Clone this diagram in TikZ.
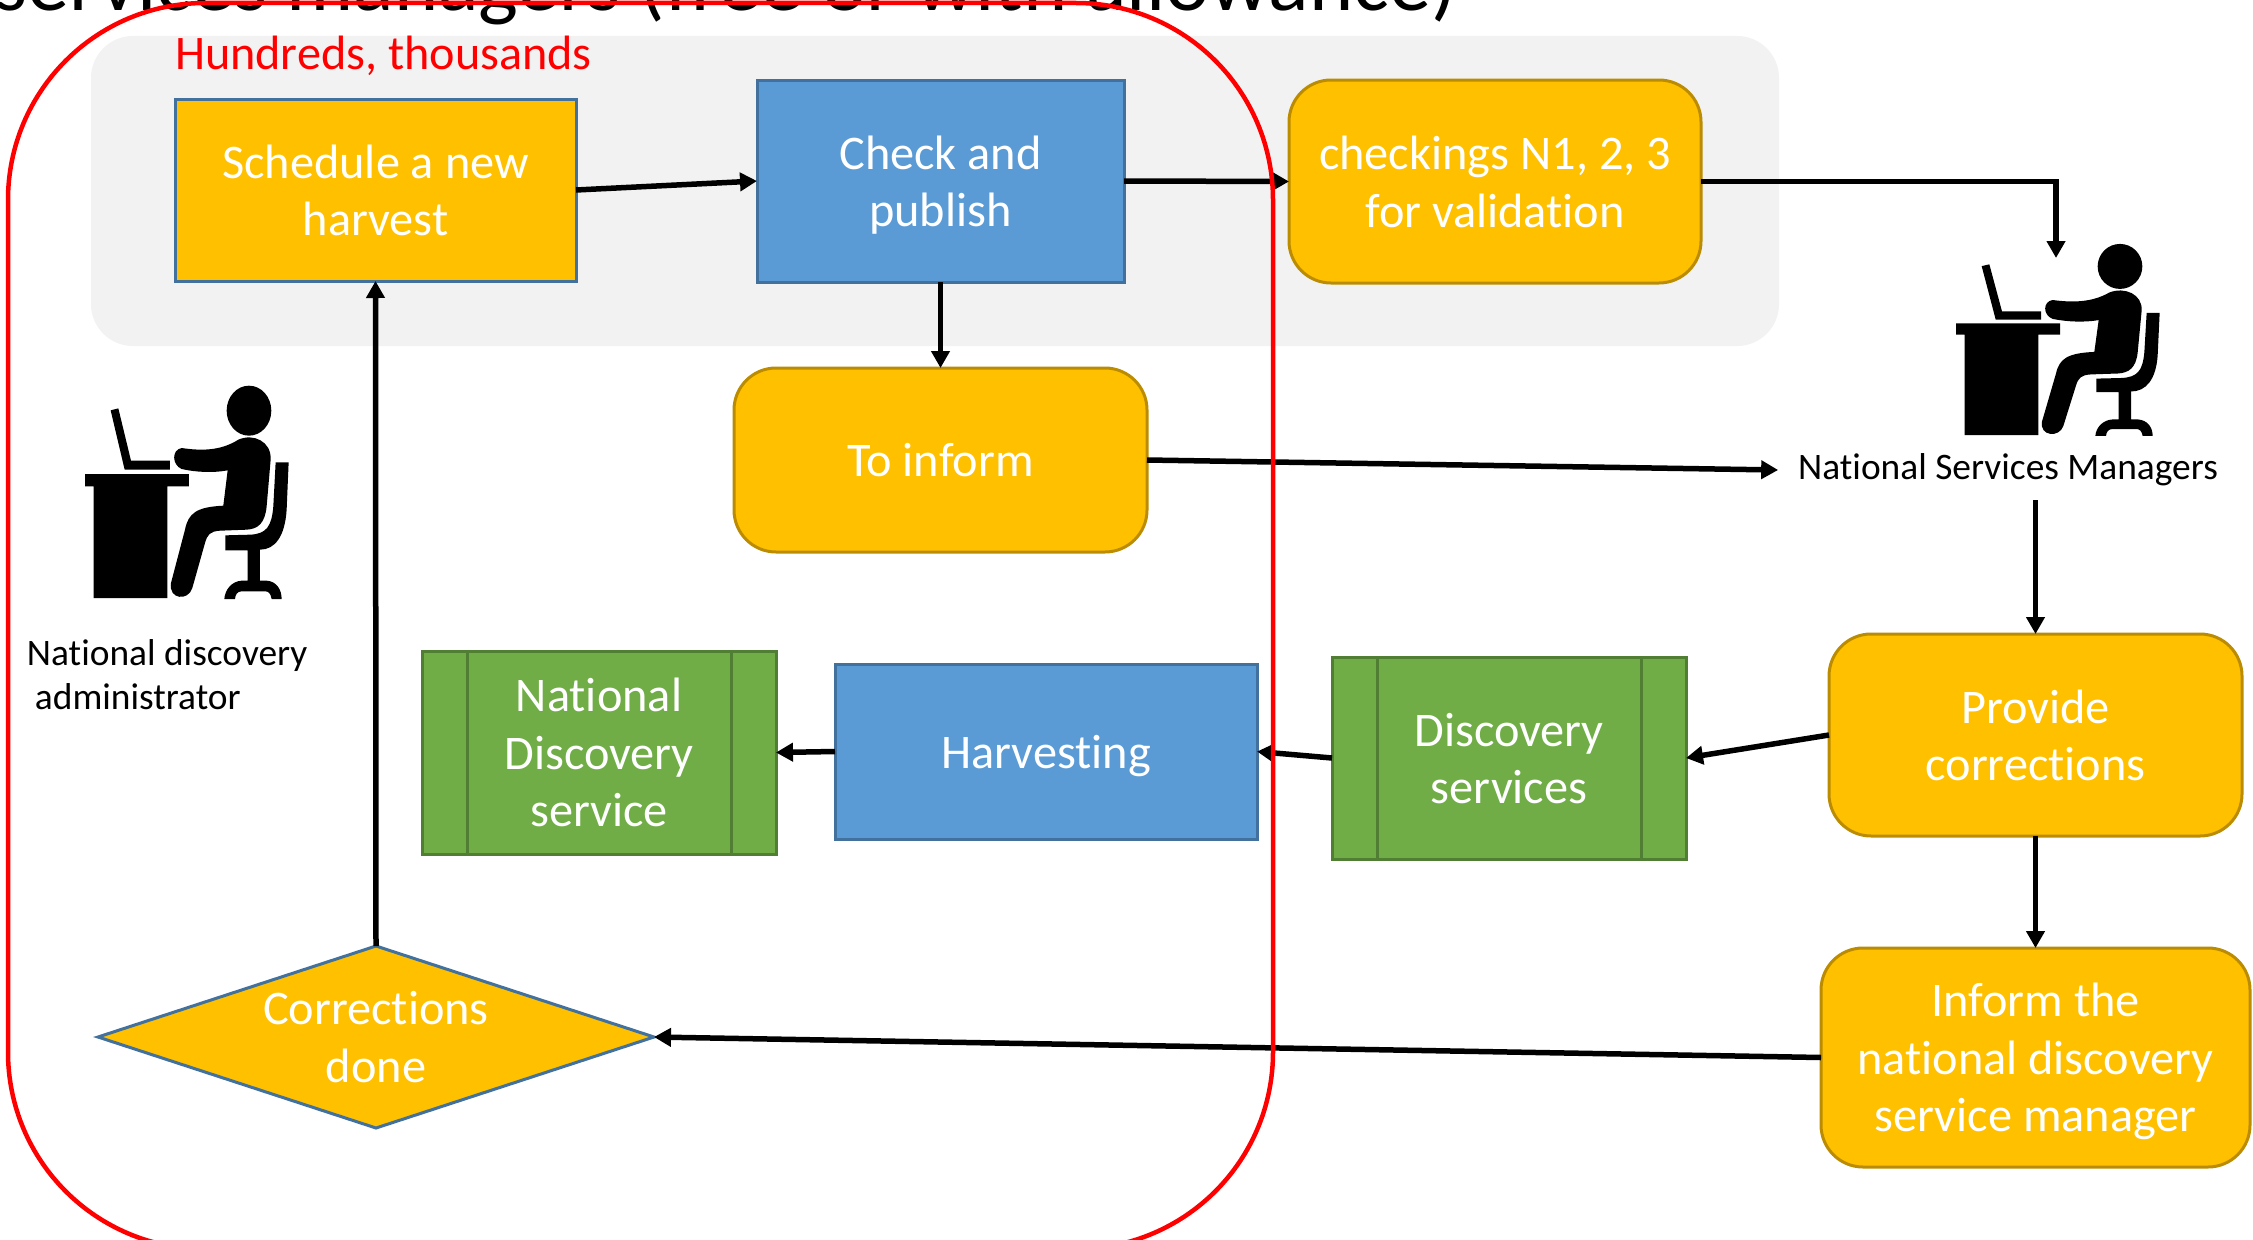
\documentclass[tikz,border=0pt]{standalone}
\usepackage{fontspec}
\setmainfont[Ligatures=NoCommon]{Carlito}
\usetikzlibrary{arrows.meta,shapes.geometric,calc}
\definecolor{cy}{HTML}{FFC000}
\definecolor{cb}{HTML}{5B9BD5}
\definecolor{cg}{HTML}{70AD47}
\definecolor{cpanel}{HTML}{F2F2F2}
\definecolor{by}{HTML}{BC8C00}
\definecolor{bb}{HTML}{41719C}
\definecolor{bg}{HTML}{507E32}
\newcommand\vst{\rule[-8pt]{0pt}{49.5pt}}
\tikzset{
  box/.style={inner sep=0pt,outer sep=0pt,line width=3pt,align=center,text=white,font=\fontsize{48.3}{57.5}\selectfont},
  yround/.style={box,rounded corners=42pt,fill=cy,draw=by},
  yrect/.style={box,fill=cy,draw=bb},
  brect/.style={box,fill=cb,draw=bb},
  grect/.style={box,fill=cg,draw=bg},
  ydiam/.style={box,diamond,fill=cy,draw=bb,aspect=3.05},
  flow/.style={line width=5.5pt,draw=black,-{Triangle[length=17pt,width=18pt]}},
  lbl/.style={inner sep=0pt,outer sep=0pt,align=left,font=\fontsize{37.4}{44}\selectfont},
  personicon/.pic={
    \begin{scope}[x=.3333pt,y=-.3333pt,shift={(-255,-745)}]
      \fill (255,373)--(567,373)--(567,410)--(502,410)--(502,745)--(281,745)--(281,410)--(255,410)--cycle;
      \fill (332,182)--(355,176)--(393,333)--(510,333)--(510,360)--(374,360)--cycle;
      \fill (747,183) ellipse [x radius=67,y radius=75];
      \fill (545,295) .. controls (600,303) and (660,305) .. (715,270)
        .. controls (760,250) and (815,275) .. (812,330)
        -- (800,470) .. controls (795,520) and (775,538) .. (740,540)
        -- (660,543) .. controls (630,545) and (622,555) .. (615,580)
        -- (577,715) .. controls (565,755) and (505,750) .. (513,700)
        -- (555,540) .. controls (565,490) and (590,472) .. (670,468)
        -- (683,362) .. controls (640,370) and (590,368) .. (545,358)
        .. controls (515,345) and (515,300) .. (545,295) -- cycle;
      \fill (827,338)--(866,338)--(860,480) .. controls (855,560) and (825,600) .. (780,600)
        --(780,693)--(800,693) .. controls (830,695) and (845,720) .. (845,748)
        --(815,748) .. controls (812,730) and (805,725) .. (795,725)
        --(725,725) .. controls (712,725) and (706,735) .. (705,748)
        --(673,748) .. controls (675,720) and (695,695) .. (725,693)
        --(743,693)--(743,602)--(676,602)--(676,557)--(750,555)
        .. controls (800,553) and (815,530) .. (820,470)--cycle;
    \end{scope}
  }
}
\begin{document}
\begin{tikzpicture}[x=1pt,y=-1pt]
\clip (0,0) rectangle (2253,1239);
\fill[white] (0,0) rectangle (2253,1239);
% title, cut by the top edge
\node[anchor=base west,inner sep=0pt,font=\fontsize{84.3}{100}\selectfont] (title) at (-6,11) {services managers (free or with allowance)};
% grey panel
\fill[cpanel,rounded corners=42pt] (91,36) rectangle (1779,346);
% boxes
\node[yrect,minimum width=401pt,minimum height=182pt] (sched) at (375.5,190) {\vst Schedule a new\\harvest\vst};
\node[brect,minimum width=367pt,minimum height=202pt] (check) at (940.5,181) {\vst Check and\\publish\vst};
\node[yround,minimum width=412pt,minimum height=203pt] (chk) at (1495,181.5) {\vst checkings N1, 2, 3\\for validation\vst};
\node[yround,minimum width=413pt,minimum height=184pt] (tell) at (940.5,460) {\vst To inform\vst};
\node[brect,minimum width=422pt,minimum height=175pt] (harv) at (1046,751.5) {\vst Harvesting\vst};
\node[grect,minimum width=354pt,minimum height=203pt] (natd) at (599,752.5) {\vst National\\Discovery\\service\vst};
\draw[bg,line width=3pt] (natd.north west) ++(45,0) -- ++(0,203) (natd.north east) ++(-45,0) -- ++(0,203);
\node[grect,minimum width=354pt,minimum height=202pt] (disc) at (1509,758) {\vst Discovery\\services\vst};
\draw[bg,line width=3pt] (disc.north west) ++(45,0) -- ++(0,202) (disc.north east) ++(-45,0) -- ++(0,202);
\node[yround,minimum width=413pt,minimum height=202pt] (prov) at (2035.5,735) {\vst Provide\\corrections\vst};
\node[yround,minimum width=429pt,minimum height=219pt] (infm) at (2035.5,1057.5) {\vst Inform the\\national discovery\\service manager\vst};
\node[ydiam,minimum width=556pt,minimum height=182pt] (corr) at (376,1037) {Corrections\\done};
% people
\pic at (85,598) {personicon};
\pic[yscale=.9] at (1956,435) {personicon};
% labels
\node[lbl,anchor=base west,text=red,font=\fontsize{48.2}{57}\selectfont] (hund) at (175,70) {Hundreds, thousands};
\node[lbl,anchor=west] (admin) at (27,675) {National discovery\\\hspace*{8pt}administrator};
\node[lbl,inner xsep=20pt,inner ysep=14pt] (nsm) at (2008,470) {National Services Managers};
% free ends
\coordinate (deskdrop) at (2056,258);
% connectors
\draw[flow] (sched.east) -- (check.west);
\draw[flow] (check.east) -- (chk.west);
\draw[flow] (check.south) -- (tell.north);
\draw[flow] (chk.east) -| (deskdrop);
\draw[flow] (tell.east) -- (nsm.west);
\draw[flow] (nsm.south -| prov.north) -- (prov.north);
\draw[flow] (prov.west) -- (disc.east);
\draw[flow] (disc.west) -- (harv.east);
\draw[flow] (harv.west) -- (natd.east);
\draw[flow] (prov.south) -- (infm.north);
\draw[flow] (infm.west) -- (corr.east);
\draw[flow] (corr.north) -- (sched.south);
% red outline
\draw[red,line width=4.5pt,rounded corners=197pt] (8,3) rectangle (1273,1249);
\end{tikzpicture}
\end{document}
